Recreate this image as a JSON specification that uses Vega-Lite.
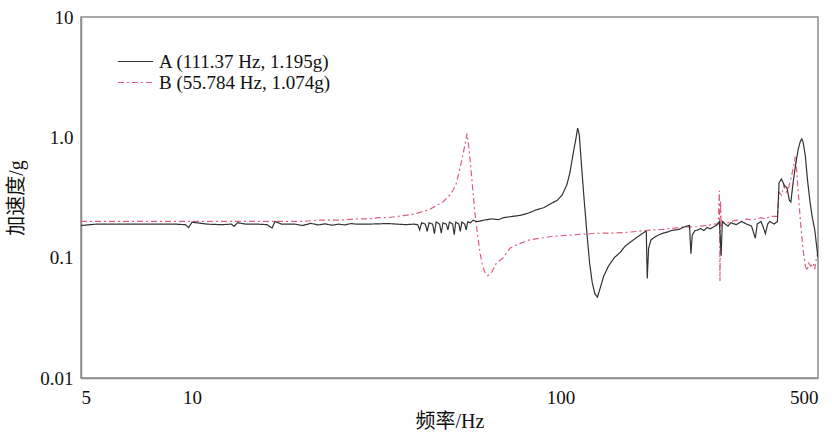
{
  "$schema": "https://vega.github.io/schema/vega-lite/v6.json",
  "width": 737,
  "height": 361,
  "autosize": {"type": "none"},
  "padding": {"left": 81, "top": 17, "right": 14, "bottom": 54},
  "background": "white",
  "config": {
    "view": {"stroke": "#8c8c8c", "strokeWidth": 1.5},
    "font": "Liberation Serif, Noto Sans CJK SC",
    "axis": {"grid": false, "ticks": false, "domainColor": "#8c8c8c", "domainWidth": 1.5, "labelFont": "Liberation Serif", "labelFontSize": 19, "labelColor": "#111", "titleFont": "Liberation Serif, Noto Sans CJK SC", "titleFontSize": 20, "titleFontWeight": "normal", "titleColor": "#111"}
  },
  "data": {"values": [
      {"s":"B","f":5,"v":0.2},{"s":"B","f":6,"v":0.2},{"s":"B","f":7,"v":0.2},{"s":"B","f":8,"v":0.2},{"s":"B","f":9,"v":0.2},{"s":"B","f":10,"v":0.2},{"s":"B","f":11,"v":0.2},{"s":"B","f":12,"v":0.2},{"s":"B","f":14,"v":0.2},{"s":"B","f":16,"v":0.2},{"s":"B","f":18,"v":0.2},{"s":"B","f":20,"v":0.2},{"s":"B","f":22,"v":0.205},{"s":"B","f":25,"v":0.205},{"s":"B","f":28,"v":0.21},{"s":"B","f":30,"v":0.21},{"s":"B","f":32,"v":0.215},{"s":"B","f":34,"v":0.215},{"s":"B","f":36,"v":0.22},{"s":"B","f":38,"v":0.225},{"s":"B","f":40,"v":0.23},{"s":"B","f":42,"v":0.24},{"s":"B","f":44,"v":0.25},{"s":"B","f":46,"v":0.27},{"s":"B","f":48,"v":0.29},{"s":"B","f":50,"v":0.33},{"s":"B","f":51,"v":0.36},{"s":"B","f":52,"v":0.4},{"s":"B","f":53,"v":0.5},{"s":"B","f":54,"v":0.65},{"s":"B","f":55,"v":0.85},{"s":"B","f":55.784,"v":1.074},{"s":"B","f":56.5,"v":0.8},{"s":"B","f":57.5,"v":0.45},{"s":"B","f":58.5,"v":0.25},{"s":"B","f":59.5,"v":0.16},{"s":"B","f":60.5,"v":0.11},{"s":"B","f":61.5,"v":0.085},{"s":"B","f":62.5,"v":0.075},{"s":"B","f":63.5,"v":0.071},{"s":"B","f":65,"v":0.075},{"s":"B","f":67,"v":0.09},{"s":"B","f":70,"v":0.1},{"s":"B","f":73,"v":0.12},{"s":"B","f":77,"v":0.13},{"s":"B","f":82,"v":0.14},{"s":"B","f":88,"v":0.145},{"s":"B","f":95,"v":0.15},{"s":"B","f":100,"v":0.152},{"s":"B","f":110,"v":0.155},{"s":"B","f":120,"v":0.158},{"s":"B","f":130,"v":0.16},{"s":"B","f":140,"v":0.16},{"s":"B","f":150,"v":0.162},{"s":"B","f":160,"v":0.165},{"s":"B","f":170,"v":0.168},{"s":"B","f":180,"v":0.17},{"s":"B","f":190,"v":0.172},{"s":"B","f":200,"v":0.175},{"s":"B","f":210,"v":0.178},{"s":"B","f":220,"v":0.18},{"s":"B","f":230,"v":0.18},{"s":"B","f":240,"v":0.183},{"s":"B","f":250,"v":0.185},{"s":"B","f":260,"v":0.19},{"s":"B","f":268,"v":0.19},{"s":"B","f":270,"v":0.36},{"s":"B","f":271,"v":0.064},{"s":"B","f":272,"v":0.3},{"s":"B","f":273,"v":0.18},{"s":"B","f":276,"v":0.2},{"s":"B","f":280,"v":0.19},{"s":"B","f":290,"v":0.2},{"s":"B","f":300,"v":0.205},{"s":"B","f":310,"v":0.2},{"s":"B","f":320,"v":0.21},{"s":"B","f":330,"v":0.205},{"s":"B","f":340,"v":0.21},{"s":"B","f":350,"v":0.215},{"s":"B","f":360,"v":0.21},{"s":"B","f":370,"v":0.22},{"s":"B","f":380,"v":0.22},{"s":"B","f":388,"v":0.22},{"s":"B","f":392,"v":0.35},{"s":"B","f":398,"v":0.33},{"s":"B","f":404,"v":0.4},{"s":"B","f":410,"v":0.35},{"s":"B","f":416,"v":0.38},{"s":"B","f":422,"v":0.45},{"s":"B","f":428,"v":0.55},{"s":"B","f":434,"v":0.69},{"s":"B","f":438,"v":0.5},{"s":"B","f":442,"v":0.35},{"s":"B","f":448,"v":0.2},{"s":"B","f":455,"v":0.12},{"s":"B","f":462,"v":0.085},{"s":"B","f":467,"v":0.078},{"s":"B","f":472,"v":0.09},{"s":"B","f":478,"v":0.085},{"s":"B","f":485,"v":0.09},{"s":"B","f":490,"v":0.08},{"s":"B","f":495,"v":0.1},{"s":"B","f":500,"v":0.11},
      {"s":"A","f":5,"v":0.185},{"s":"A","f":5.5,"v":0.19},{"s":"A","f":6,"v":0.19},{"s":"A","f":7,"v":0.19},{"s":"A","f":8,"v":0.19},{"s":"A","f":9,"v":0.19},{"s":"A","f":9.6,"v":0.188},{"s":"A","f":9.8,"v":0.178},{"s":"A","f":10,"v":0.197},{"s":"A","f":10.3,"v":0.195},{"s":"A","f":11,"v":0.19},{"s":"A","f":12,"v":0.188},{"s":"A","f":12.8,"v":0.19},{"s":"A","f":13,"v":0.182},{"s":"A","f":13.3,"v":0.195},{"s":"A","f":14,"v":0.19},{"s":"A","f":15,"v":0.19},{"s":"A","f":16,"v":0.188},{"s":"A","f":16.5,"v":0.176},{"s":"A","f":16.8,"v":0.2},{"s":"A","f":17.5,"v":0.19},{"s":"A","f":19,"v":0.19},{"s":"A","f":20,"v":0.185},{"s":"A","f":21,"v":0.193},{"s":"A","f":22,"v":0.187},{"s":"A","f":23,"v":0.191},{"s":"A","f":24,"v":0.186},{"s":"A","f":25,"v":0.19},{"s":"A","f":26,"v":0.187},{"s":"A","f":27,"v":0.192},{"s":"A","f":28,"v":0.19},{"s":"A","f":30,"v":0.19},{"s":"A","f":32,"v":0.191},{"s":"A","f":34,"v":0.192},{"s":"A","f":36,"v":0.19},{"s":"A","f":38,"v":0.188},{"s":"A","f":40,"v":0.19},
      {"s":"A","f":41,"v":0.188},{"s":"A","f":41.5,"v":0.17},{"s":"A","f":42,"v":0.195},{"s":"A","f":43,"v":0.19},{"s":"A","f":43.5,"v":0.165},{"s":"A","f":44,"v":0.195},{"s":"A","f":45,"v":0.19},{"s":"A","f":45.5,"v":0.158},{"s":"A","f":46,"v":0.198},{"s":"A","f":47,"v":0.19},{"s":"A","f":47.5,"v":0.16},{"s":"A","f":48,"v":0.195},{"s":"A","f":49,"v":0.19},{"s":"A","f":49.5,"v":0.17},{"s":"A","f":50,"v":0.198},{"s":"A","f":51,"v":0.19},{"s":"A","f":51.5,"v":0.155},{"s":"A","f":52,"v":0.198},{"s":"A","f":53,"v":0.19},{"s":"A","f":53.5,"v":0.165},{"s":"A","f":54,"v":0.198},{"s":"A","f":55,"v":0.19},{"s":"A","f":55.5,"v":0.17},{"s":"A","f":56,"v":0.198},{"s":"A","f":57,"v":0.195},{"s":"A","f":58,"v":0.205},{"s":"A","f":59,"v":0.2},
      {"s":"A","f":60,"v":0.2},{"s":"A","f":62,"v":0.205},{"s":"A","f":65,"v":0.21},{"s":"A","f":68,"v":0.207},{"s":"A","f":70,"v":0.215},{"s":"A","f":74,"v":0.22},{"s":"A","f":78,"v":0.225},{"s":"A","f":82,"v":0.235},{"s":"A","f":86,"v":0.25},{"s":"A","f":90,"v":0.26},{"s":"A","f":94,"v":0.28},{"s":"A","f":98,"v":0.3},{"s":"A","f":101,"v":0.33},{"s":"A","f":104,"v":0.4},{"s":"A","f":106,"v":0.5},{"s":"A","f":108,"v":0.7},{"s":"A","f":110,"v":0.95},{"s":"A","f":111.37,"v":1.195},{"s":"A","f":112.5,"v":1.05},{"s":"A","f":114,"v":0.6},{"s":"A","f":116,"v":0.3},{"s":"A","f":118,"v":0.16},{"s":"A","f":120,"v":0.09},{"s":"A","f":122,"v":0.062},{"s":"A","f":124,"v":0.05},{"s":"A","f":126,"v":0.047},{"s":"A","f":128,"v":0.055},{"s":"A","f":131,"v":0.07},{"s":"A","f":135,"v":0.085},{"s":"A","f":140,"v":0.1},{"s":"A","f":145,"v":0.11},{"s":"A","f":150,"v":0.125},{"s":"A","f":155,"v":0.135},{"s":"A","f":160,"v":0.145},{"s":"A","f":165,"v":0.155},{"s":"A","f":170,"v":0.165},{"s":"A","f":171,"v":0.165},{"s":"A","f":172,"v":0.067},{"s":"A","f":173.5,"v":0.12},{"s":"A","f":176,"v":0.14},{"s":"A","f":180,"v":0.148},{"s":"A","f":185,"v":0.155},{"s":"A","f":190,"v":0.16},{"s":"A","f":195,"v":0.163},{"s":"A","f":200,"v":0.168},{"s":"A","f":205,"v":0.17},{"s":"A","f":210,"v":0.172},{"s":"A","f":215,"v":0.178},{"s":"A","f":220,"v":0.183},{"s":"A","f":224,"v":0.185},{"s":"A","f":226,"v":0.108},{"s":"A","f":228,"v":0.155},{"s":"A","f":232,"v":0.168},{"s":"A","f":236,"v":0.17},{"s":"A","f":240,"v":0.175},{"s":"A","f":245,"v":0.168},{"s":"A","f":250,"v":0.178},{"s":"A","f":255,"v":0.174},{"s":"A","f":260,"v":0.18},{"s":"A","f":265,"v":0.185},{"s":"A","f":270,"v":0.2},{"s":"A","f":273,"v":0.104},{"s":"A","f":275,"v":0.2},{"s":"A","f":280,"v":0.19},{"s":"A","f":285,"v":0.183},{"s":"A","f":290,"v":0.195},{"s":"A","f":300,"v":0.188},{"s":"A","f":310,"v":0.2},{"s":"A","f":320,"v":0.19},{"s":"A","f":330,"v":0.183},{"s":"A","f":338,"v":0.145},{"s":"A","f":342,"v":0.19},{"s":"A","f":350,"v":0.2},{"s":"A","f":355,"v":0.18},{"s":"A","f":360,"v":0.158},{"s":"A","f":365,"v":0.19},{"s":"A","f":370,"v":0.2},{"s":"A","f":380,"v":0.19},{"s":"A","f":388,"v":0.2},{"s":"A","f":392,"v":0.42},{"s":"A","f":398,"v":0.45},{"s":"A","f":405,"v":0.4},{"s":"A","f":412,"v":0.38},{"s":"A","f":418,"v":0.3},{"s":"A","f":422,"v":0.29},{"s":"A","f":428,"v":0.42},{"s":"A","f":435,"v":0.6},{"s":"A","f":442,"v":0.8},{"s":"A","f":448,"v":0.93},{"s":"A","f":452,"v":0.97},{"s":"A","f":456,"v":0.9},{"s":"A","f":462,"v":0.7},{"s":"A","f":468,"v":0.45},{"s":"A","f":475,"v":0.3},{"s":"A","f":482,"v":0.22},{"s":"A","f":490,"v":0.17},{"s":"A","f":495,"v":0.13},{"s":"A","f":500,"v":0.1}
  ]},
  "mark": {"type": "line", "strokeWidth": 1.2, "clip": true},
  "encoding": {
    "x": {"field": "f", "type": "quantitative", "scale": {"type": "log", "domain": [5, 500]}, "title": "频率/Hz", "axis": {"values": [5, 10, 100, 500], "format": "d", "labelPadding": 10, "titlePadding": 4}},
    "y": {"field": "v", "type": "quantitative", "scale": {"type": "log", "domain": [0.01, 10]}, "title": "加速度/g", "axis": {"values": [0.01, 0.1, 1, 10], "labelExpr": "datum.value == 10 ? '10' : datum.value == 1 ? '1.0' : datum.value == 0.1 ? '0.1' : '0.01'", "labelPadding": 8, "titlePadding": 13}},
    "order": {"field": "f", "type": "quantitative"},
    "color": {"field": "s", "type": "nominal", "sort": ["A", "B"], "scale": {"domain": ["A", "B"], "range": ["#333333", "#e0607a"]}, "legend": {"orient": "none", "legendX": 45, "legendY": 35, "title": null, "symbolType": "M-4.4,0H4.4", "symbolSize": 64, "symbolStrokeWidth": 1.2, "symbolFillColor": "transparent", "labelFont": "Liberation Serif", "labelFontSize": 19, "labelLimit": 400, "labelColor": "#111", "rowPadding": 1, "labelOffset": 14, "labelExpr": "datum.label == 'A' ? 'A (111.37 Hz, 1.195g)' : 'B (55.784 Hz, 1.074g)'"}},
    "strokeDash": {"field": "s", "type": "nominal", "sort": ["A", "B"], "scale": {"domain": ["A", "B"], "range": [[1, 0], [6, 3, 2, 3]]}, "legend": {"orient": "none", "legendX": 45, "legendY": 35, "title": null, "symbolType": "M-4.4,0H4.4", "symbolSize": 64, "symbolStrokeWidth": 1.2, "symbolFillColor": "transparent", "labelFont": "Liberation Serif", "labelFontSize": 19, "labelLimit": 400, "labelColor": "#111", "rowPadding": 1, "labelOffset": 14, "labelExpr": "datum.label == 'A' ? 'A (111.37 Hz, 1.195g)' : 'B (55.784 Hz, 1.074g)'"}}
  }
}
